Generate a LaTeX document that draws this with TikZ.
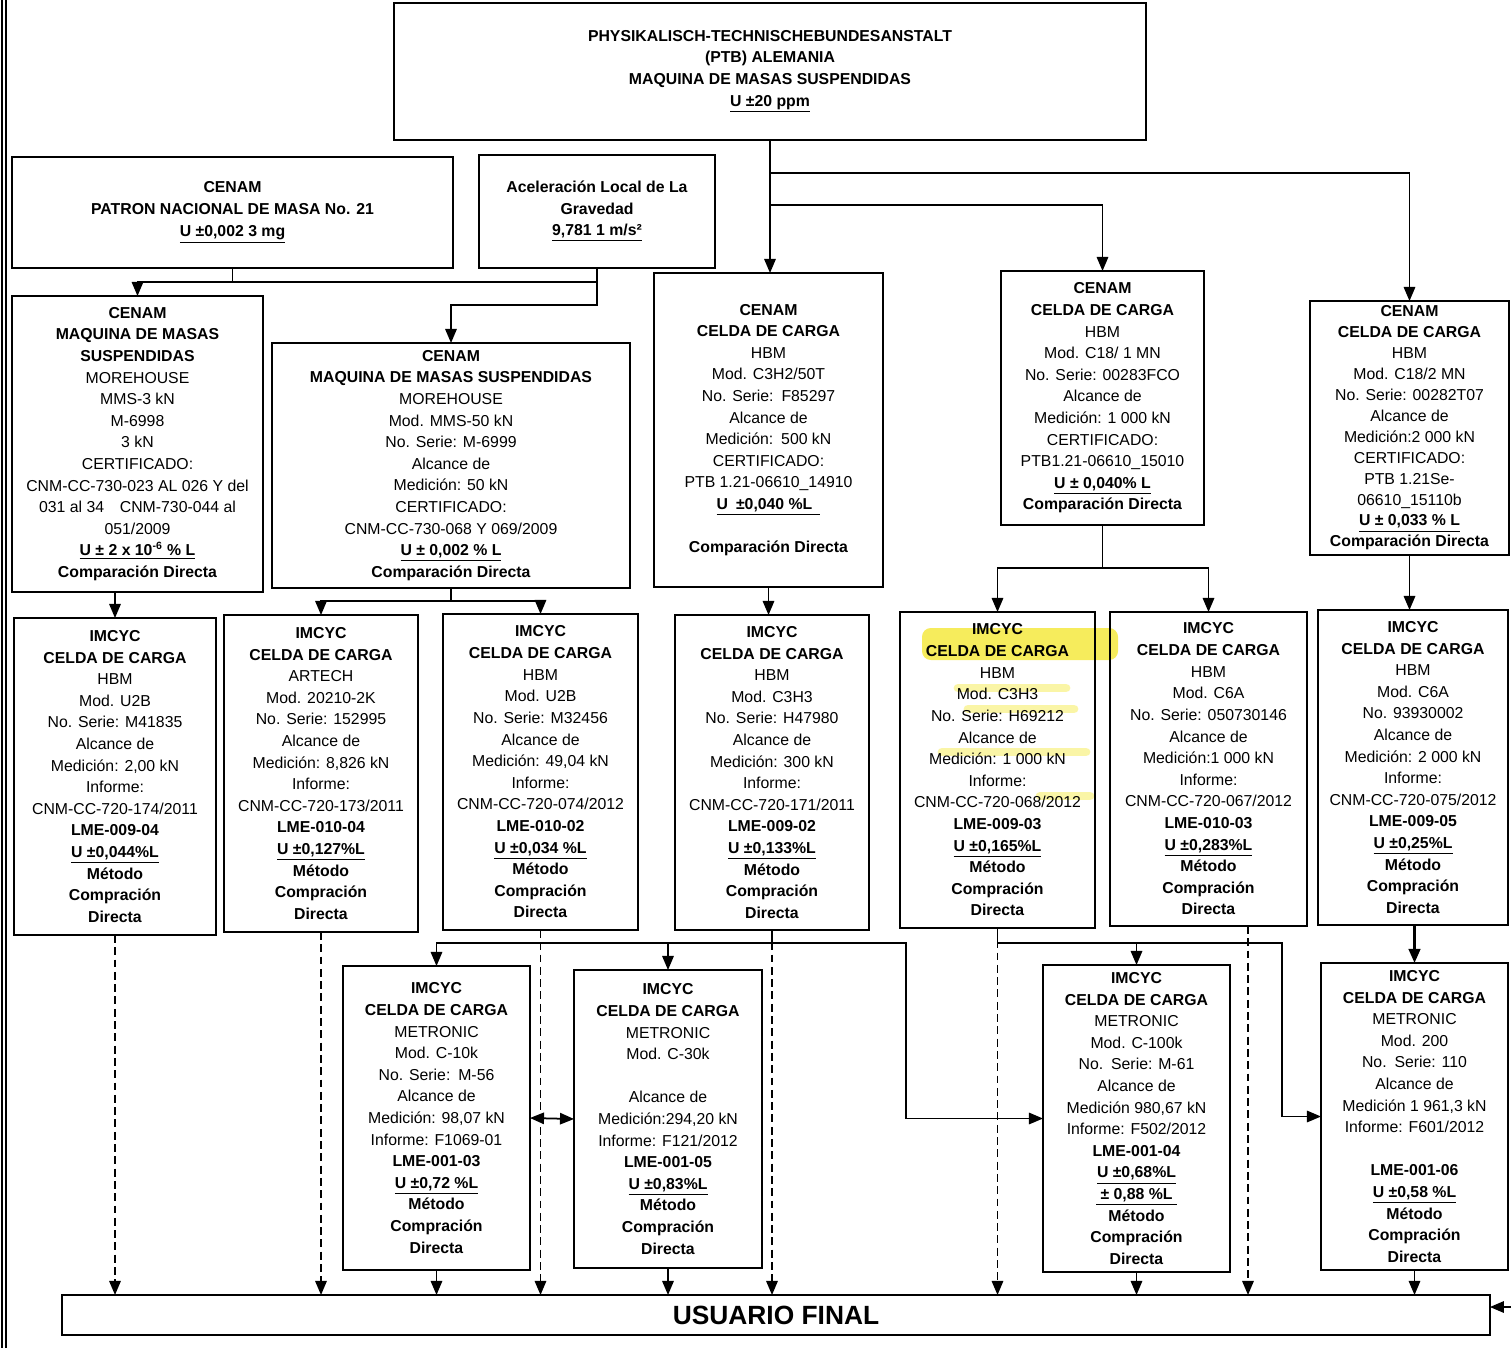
\documentclass[tikz,border=0pt]{standalone}
\usepackage{fontspec}
\setmainfont{Liberation Sans}
\usetikzlibrary{arrows.meta}
\definecolor{hilite}{HTML}{F6EC5C}

\begin{document}
\begin{tikzpicture}[x=0.02cm, y=-0.02cm, >={Triangle[length=8pt,width=6.5pt]}]
    \tikzstyle{box}=[draw, line width=1.2pt, inner sep=0pt, outer sep=0pt, align=center, font=\fontsize{9}{12.3}\selectfont]
    \tikzstyle{link}=[line width=1pt]
    \tikzstyle{dashlink}=[line width=1pt, dash pattern=on 4.5pt off 2.5pt]
    \useasboundingbox (0,0) rectangle (1511,1348);
    % page rim
    \draw [line width=0.8pt] (2,0) -- (2,1348);
    \draw [line width=0.8pt] (6,0) -- (6,1348);
    % marker strokes
    \fill [hilite, rounded corners=5pt] (922,628) rectangle (1118,660);
    \draw [hilite, opacity=0.55, line width=5pt, line cap=round] (958,688) -- (1066,688);
    \draw [hilite, opacity=0.55, line width=5pt, line cap=round] (968,709) -- (1074,709);
    \draw [hilite, opacity=0.55, line width=5pt, line cap=round] (942,752) -- (1086,752);
    \draw [hilite, opacity=0.55, line width=5pt, line cap=round] (1040,796) -- (1090,796);

    % top level
    \node [box, minimum width=15.04cm, minimum height=2.74cm] (ptb) at (770,71.5)
        {\textbf{PHYSIKALISCH-TECHNISCHEBUNDESANSTALT}\\ \textbf{(PTB) ALEMANIA}\\
         \textbf{MAQUINA DE MASAS SUSPENDIDAS}\\ \textbf{\underline{U ±20 ppm}}};
    \node [box, minimum width=8.82cm, minimum height=2.22cm] (patron) at (232.5,212.5)
        {\textbf{CENAM}\\ \textbf{PATRON NACIONAL DE MASA No. 21}\\ \textbf{\underline{U ±0,002 3 mg}}};
    \node [box, minimum width=4.72cm, minimum height=2.26cm] (acel) at (597,211.5)
        {\textbf{Aceleración Local de La}\\ \textbf{Gravedad}\\ \textbf{\underline{9,781 1 m/s²}}};

    % CENAM
    \node [box, minimum width=5.02cm, minimum height=5.92cm] (mms3) at (137.5,444)
        {\textbf{CENAM}\\ \textbf{MAQUINA DE MASAS}\\ \textbf{SUSPENDIDAS}\\ MOREHOUSE\\ MMS-3 kN\\ M-6998\\ 3 kN\\
         CERTIFICADO:\\ CNM-CC-730-023 AL 026 Y del\\ 031 al 34\quad CNM-730-044 al\\ 051/2009\\
         \textbf{\underline{U ± 2 x 10\textsuperscript{-6} \% L}}\\ \textbf{Comparación Directa}};
    \node [box, minimum width=7.16cm, minimum height=4.90cm] (mms50) at (451,465.5)
        {\textbf{CENAM}\\ \textbf{MAQUINA DE MASAS SUSPENDIDAS}\\ MOREHOUSE\\ Mod. MMS-50 kN\\ No. Serie: M-6999\\
         Alcance de\\ Medición: 50 kN\\ CERTIFICADO:\\ CNM-CC-730-068 Y 069/2009\\
         \textbf{\underline{U ± 0,002 \% L}}\\ \textbf{Comparación Directa}};
    \node [box, minimum width=4.58cm, minimum height=6.28cm] (c3h2) at (768.5,430)
        {\textbf{CENAM}\\ \textbf{CELDA DE CARGA}\\ HBM\\ Mod. C3H2/50T\\ No. Serie:\enspace F85297\\ Alcance de\\
         Medición:\enspace 500 kN\\ CERTIFICADO:\\ PTB 1.21-06610\_14910\\ \textbf{\underline{U\enspace ±0,040 \%L\enspace}}\\[12.3pt]
         \textbf{Comparación Directa}};
    \node [box, minimum width=4.06cm, minimum height=5.08cm] (c18a) at (1102.5,398)
        {\textbf{CENAM}\\ \textbf{CELDA DE CARGA}\\ HBM\\ Mod. C18/ 1 MN\\ No. Serie: 00283FCO\\ Alcance de\\
         Medición: 1 000 kN\\ CERTIFICADO:\\ PTB1.21-06610\_15010\\ \textbf{\underline{U ± 0,040\% L}}\\
         \textbf{Comparación Directa}};
    \node [box, minimum width=3.98cm, minimum height=5.08cm, font=\fontsize{9}{11.9}\selectfont] (c18b) at (1409.5,428)
        {\textbf{CENAM}\\ \textbf{CELDA DE CARGA}\\ HBM\\ Mod. C18/2 MN\\ No. Serie: 00282T07\\ Alcance de\\
         Medición:2 000 kN\\ CERTIFICADO:\\ PTB 1.21Se-\\ 06610\_15110b\\ \textbf{\underline{U ± 0,033 \% L}}\\
         \textbf{Comparación Directa}};

    % IMCYC, HBM / ARTECH
    \node [box, minimum width=4.04cm, minimum height=6.34cm] (b1) at (115,776.5)
        {\textbf{IMCYC}\\ \textbf{CELDA DE CARGA}\\ HBM\\ Mod. U2B\\ No. Serie: M41835\\ Alcance de\\
         Medición: 2,00 kN\\ Informe:\\ CNM-CC-720-174/2011\\ \textbf{LME-009-04}\\ \textbf{\underline{U ±0,044\%L}}\\
         \textbf{Método}\\ \textbf{Compración}\\ \textbf{Directa}};
    \node [box, minimum width=3.88cm, minimum height=6.34cm] (b2) at (321,773.5)
        {\textbf{IMCYC}\\ \textbf{CELDA DE CARGA}\\ ARTECH\\ Mod. 20210-2K\\ No. Serie: 152995\\ Alcance de\\
         Medición: 8,826 kN\\ Informe:\\ CNM-CC-720-173/2011\\ \textbf{LME-010-04}\\ \textbf{\underline{U ±0,127\%L}}\\
         \textbf{Método}\\ \textbf{Compración}\\ \textbf{Directa}};
    \node [box, minimum width=3.90cm, minimum height=6.32cm] (b3) at (540.5,772)
        {\textbf{IMCYC}\\ \textbf{CELDA DE CARGA}\\ HBM\\ Mod. U2B\\ No. Serie: M32456\\ Alcance de\\
         Medición: 49,04 kN\\ Informe:\\ CNM-CC-720-074/2012\\ \textbf{LME-010-02}\\ \textbf{\underline{U ±0,034 \%L}}\\
         \textbf{Método}\\ \textbf{Compración}\\ \textbf{Directa}};
    \node [box, minimum width=3.88cm, minimum height=6.30cm] (b4) at (772,772.5)
        {\textbf{IMCYC}\\ \textbf{CELDA DE CARGA}\\ HBM\\ Mod. C3H3\\ No. Serie: H47980\\ Alcance de\\
         Medición: 300 kN\\ Informe:\\ CNM-CC-720-171/2011\\ \textbf{LME-009-02}\\ \textbf{\underline{U ±0,133\%L}}\\
         \textbf{Método}\\ \textbf{Compración}\\ \textbf{Directa}};
    \node [box, minimum width=3.90cm, minimum height=6.32cm] (b5) at (997.5,770)
        {\textbf{IMCYC}\\ \textbf{CELDA DE CARGA}\\ HBM\\ Mod. C3H3\\ No. Serie: H69212\\ Alcance de\\
         Medición: 1 000 kN\\ Informe:\\ CNM-CC-720-068/2012\\ \textbf{LME-009-03}\\ \textbf{\underline{U ±0,165\%L}}\\
         \textbf{Método}\\ \textbf{Compración}\\ \textbf{Directa}};
    \node [box, minimum width=3.94cm, minimum height=6.28cm] (b6) at (1208.5,769)
        {\textbf{IMCYC}\\ \textbf{CELDA DE CARGA}\\ HBM\\ Mod. C6A\\ No. Serie: 050730146\\ Alcance de\\
         Medición:1 000 kN\\ Informe:\\ CNM-CC-720-067/2012\\ \textbf{LME-010-03}\\ \textbf{\underline{U ±0,283\%L}}\\
         \textbf{Método}\\ \textbf{Compración}\\ \textbf{Directa}};
    \node [box, minimum width=3.80cm, minimum height=6.30cm] (b7) at (1413,767.5)
        {\textbf{IMCYC}\\ \textbf{CELDA DE CARGA}\\ HBM\\ Mod. C6A\\ No. 93930002\\ Alcance de\\
         Medición: 2 000 kN\\ Informe:\\ CNM-CC-720-075/2012\\ \textbf{LME-009-05}\\ \textbf{\underline{U ±0,25\%L}}\\
         \textbf{Método}\\ \textbf{Compración}\\ \textbf{Directa}};

    % IMCYC, METRONIC
    \node [box, minimum width=3.74cm, minimum height=6.08cm] (m1) at (436.5,1118)
        {\textbf{IMCYC}\\ \textbf{CELDA DE CARGA}\\ METRONIC\\ Mod. C-10k\\ No. Serie:\enspace M-56\\ Alcance de\\
         Medición: 98,07 kN\\ Informe: F1069-01\\ \textbf{LME-001-03}\\ \textbf{\underline{U ±0,72 \%L}}\\
         \textbf{Método}\\ \textbf{Compración}\\ \textbf{Directa}};
    \node [box, minimum width=3.76cm, minimum height=5.96cm] (m2) at (668,1119)
        {\textbf{IMCYC}\\ \textbf{CELDA DE CARGA}\\ METRONIC\\ Mod. C-30k\\[12.3pt] Alcance de\\
         Medición:294,20 kN\\ Informe: F121/2012\\ \textbf{LME-001-05}\\ \textbf{\underline{U ±0,83\%L}}\\
         \textbf{Método}\\ \textbf{Compración}\\ \textbf{Directa}};
    \node [box, minimum width=3.74cm, minimum height=6.14cm] (m3) at (1136.5,1118.5)
        {\textbf{IMCYC}\\ \textbf{CELDA DE CARGA}\\ METRONIC\\ Mod. C-100k\\ No.\enspace Serie: M-61\\ Alcance de\\
         Medición 980,67 kN\\ Informe: F502/2012\\ \textbf{LME-001-04}\\ \textbf{\underline{U ±0,68\%L}}\\
         \textbf{\underline{\ ± 0,88 \%L\ }}\\ \textbf{Método}\\ \textbf{Compración}\\ \textbf{Directa}};
    \node [box, minimum width=3.74cm, minimum height=6.14cm] (m4) at (1414.5,1116.5)
        {\textbf{IMCYC}\\ \textbf{CELDA DE CARGA}\\ METRONIC\\ Mod. 200\\ No.\enspace Serie: 110\\ Alcance de\\
         Medición 1 961,3 kN\\ Informe: F601/2012\\[12.3pt] \textbf{LME-001-06}\\ \textbf{\underline{U ±0,58 \%L}}\\
         \textbf{Método}\\ \textbf{Compración}\\ \textbf{Directa}};

    \node [box, minimum width=28.56cm, minimum height=0.80cm, font=\fontsize{15}{18}\selectfont\bfseries] (usu) at (776,1315)
        {USUARIO FINAL};

    % junction points
    \coordinate (tapA) at (770,173);
    \coordinate (tapB) at (770,205);
    \coordinate (busA) at (0,282);
    \coordinate (busB) at (0,305);
    \coordinate (busC) at (0,601);
    \coordinate (busD) at (0,568);
    \coordinate (busE) at (0,943);
    \coordinate (kneeE) at (906,0);
    \coordinate (kneeF) at (1282,0);
    \coordinate (b6tap) at ([xshift=0.79cm]b6.south);
    \coordinate (rim) at (1511,1307);

    % PTB down
    \draw [link, ->] (ptb.south) -- (ptb.south |- c3h2.north);
    \draw [link, ->] (tapB) -| (c18a.north);
    \draw [link, ->] (tapA) -| (c18b.north);
    % mass and gravity down
    \draw [link] (patron.south) -- (patron.south |- busA);
    \draw [link, ->] (acel.south) -- (acel.south |- busA) -| (mms3.north);
    \draw [link, ->] (acel.south |- busA) -- (acel.south |- busB) -| (mms50.north);
    % CENAM to IMCYC
    \draw [link, ->] (b1.north |- mms3.south) -- (b1.north);
    \draw [link, ->] (mms50.south) -- (mms50.south |- busC) -| (b2.north);
    \draw [link, ->] (mms50.south |- busC) -| (b3.north);
    \draw [link, ->] (c3h2.south) -- (c3h2.south |- b4.north);
    \draw [link, ->] (c18a.south) -- (c18a.south |- busD) -| (b5.north);
    \draw [link, ->] (c18a.south |- busD) -| (b6.north);
    \draw [link, ->] (c18b.south) -- (c18b.south |- b7.north);
    % IMCYC to METRONIC
    \draw [link, ->] (b4.south) -- (b4.south |- busE) -| (m1.north);
    \draw [link, ->] (m2.north |- busE) -- (m2.north);
    \draw [link, ->] (b4.south |- busE) -| (kneeE |- m3.west) -- (m3.west);
    \draw [link, ->] (b5.south) -- (b5.south |- busE) -| (m3.north);
    \draw [link, ->] (b5.south |- busE) -| (kneeF |- m4.west) -- (m4.west);
    \draw [link, line width=1.6pt, ->] (m4.north |- b7.south) -- (m4.north);
    \draw [link, <->] (m1.east) -- (m2.west);
    % to final user
    \draw [dashlink, ->] (b1.south) -- (b1.south |- usu.north);
    \draw [dashlink, ->] (b2.south) -- (b2.south |- usu.north);
    \draw [dashlink, ->] (b3.south) -- (b3.south |- usu.north);
    \draw [dashlink, ->] (b4.south) -- (b4.south |- usu.north);
    \draw [dashlink, ->] (b5.south) -- (b5.south |- usu.north);
    \draw [dashlink, ->] (b6tap) -- (b6tap |- usu.north);
    \draw [link, ->] (m1.south) -- (m1.south |- usu.north);
    \draw [link, ->] (m2.south) -- (m2.south |- usu.north);
    \draw [link, ->] (m3.south) -- (m3.south |- usu.north);
    \draw [link, ->] (m4.south) -- (m4.south |- usu.north);
    \draw [link, ->] (rim) -- (rim -| usu.east);
\end{tikzpicture}
\end{document}
